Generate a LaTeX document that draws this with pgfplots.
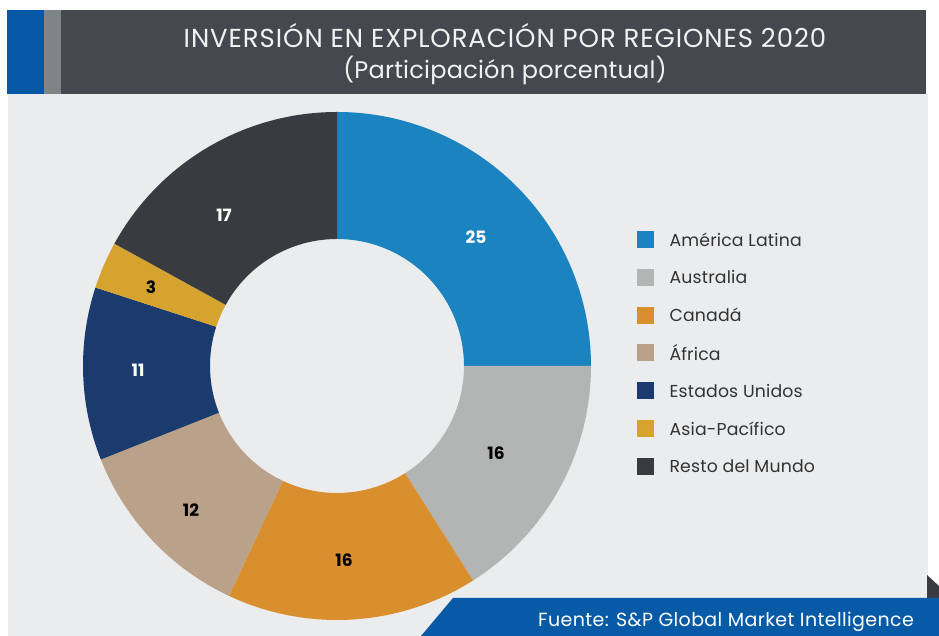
\documentclass[border=0pt]{standalone}
\usepackage{fontspec}
\setmainfont{Poppins}
\usepackage{pgfplots}
\usepackage{pgfplotstable}
\pgfplotsset{compat=1.18}
\definecolor{c0}{HTML}{1B83BF}
\definecolor{c1}{HTML}{B3B4B4}
\definecolor{c2}{HTML}{DA8F2E}
\definecolor{c3}{HTML}{BAA189}
\definecolor{c4}{HTML}{1B3A6D}
\definecolor{c5}{HTML}{D6A32F}
\definecolor{c6}{HTML}{383B3F}
\definecolor{hdr}{HTML}{464850}
\definecolor{hblue}{HTML}{0558A6}
\definecolor{hgrey}{HTML}{7F8486}
\definecolor{panel}{HTML}{EBECEE}
\definecolor{fblue}{HTML}{075AA6}
\definecolor{ltxt}{HTML}{333333}

% values (percent), label positions in pixel coords of the reference
\pgfplotstableread[col sep=comma]{
label,value,lx,ly,tc
América Latina,25,476,237,white
Australia,16,496,453,black
Canadá,16,344,560,black
África,12,191,510,black
Estados Unidos,11,138,370,white
Asia-Pacífico,3,151,287,black
Resto del Mundo,17,224,215,white
}\datatable

\def\cum{0}
\foreach \i in {0,...,6}{%
  \pgfplotstablegetelem{\i}{value}\of\datatable
  \pgfmathsetmacro\va{\pgfplotsretval}%
  \expandafter\xdef\csname val\i\endcsname{\pgfplotsretval}%
  \pgfmathsetmacro\sa{90-3.6*\cum}%
  \pgfmathsetmacro\ea{90-3.6*(\cum+\va)}%
  \expandafter\xdef\csname sa\i\endcsname{\sa}%
  \expandafter\xdef\csname ea\i\endcsname{\ea}%
  \pgfplotstablegetelem{\i}{label}\of\datatable
  \expandafter\xdef\csname lab\i\endcsname{\pgfplotsretval}%
  \pgfplotstablegetelem{\i}{lx}\of\datatable
  \expandafter\xdef\csname lx\i\endcsname{\pgfplotsretval}%
  \pgfplotstablegetelem{\i}{ly}\of\datatable
  \pgfmathsetmacro\yy{636-\pgfplotsretval}%
  \expandafter\xdef\csname ly\i\endcsname{\yy}%
  \pgfplotstablegetelem{\i}{tc}\of\datatable
  \expandafter\xdef\csname tc\i\endcsname{\pgfplotsretval}%
  \pgfmathsetmacro\nc{\cum+\va}%
  \xdef\cum{\nc}%
}

\begin{document}
\begin{tikzpicture}
\begin{axis}[
  scale only axis, width=939pt, height=636pt,
  xmin=0, xmax=939, ymin=0, ymax=636,
  hide axis, clip=false, anchor=south west, at={(0,0)},
]
% panel and header
\fill[white] (axis cs:0,0) rectangle (axis cs:939,636);
\fill[panel] (axis cs:8,0) rectangle (axis cs:928,542);
\fill[hblue] (axis cs:7,542) rectangle (axis cs:44,626);
\fill[hgrey] (axis cs:44,542) rectangle (axis cs:61,626);
\fill[hdr] (axis cs:61,542) rectangle (axis cs:926,626);
\node[text=white!95!black, font=\fontsize{26}{26}\selectfont\addfontfeature{LetterSpace=3.5}, anchor=base] at (axis cs:505,588) {INVERSIÓN EN EXPLORACIÓN POR REGIONES 2020};
\node[text=white!95!black, font=\fontsize{24}{24}\selectfont\addfontfeature{LetterSpace=1}, anchor=base] at (axis cs:505,557) {(Participación porcentual)};
% donut
\pgfplotsinvokeforeach{0,...,6}{
  \fill[c#1] ([shift={(\csname sa#1\endcsname:254pt)}]axis cs:337,270)
     arc[start angle=\csname sa#1\endcsname, end angle=\csname ea#1\endcsname, radius=254pt]
     -- ([shift={(\csname ea#1\endcsname:127pt)}]axis cs:337,270)
     arc[start angle=\csname ea#1\endcsname, end angle=\csname sa#1\endcsname, radius=127pt]
     -- cycle;
  \node[text=\csname tc#1\endcsname, font=\bfseries\fontsize{17}{17}\selectfont] at (axis cs:\csname lx#1\endcsname,\csname ly#1\endcsname) {\csname val#1\endcsname};
  \fill[c#1] (axis cs:637,{388-37.83*#1}) rectangle (axis cs:654,{405-37.83*#1});
  \node[anchor=west, text=ltxt, font=\fontsize{17.3}{17.3}\selectfont\addfontfeature{LetterSpace=1}] at (axis cs:666,{396.5-37.83*#1}) {\csname lab#1\endcsname};
}
% footer
\fill[c6] (axis cs:927,61) -- (axis cs:927,38) -- (axis cs:939,38) -- (axis cs:939,50) -- cycle;
\fill[fblue] (axis cs:453,38) -- (axis cs:939,38) -- (axis cs:939,0) -- (axis cs:421,0) -- cycle;
\node[anchor=base east, text=white, font=\fontsize{19}{19}\selectfont\addfontfeature{LetterSpace=2}, inner sep=0pt] at (axis cs:914,9) {Fuente: S\&P Global Market Intelligence};
\end{axis}
\pgfresetboundingbox
\path (0,0) rectangle (939pt,636pt);
\end{tikzpicture}
\end{document}
